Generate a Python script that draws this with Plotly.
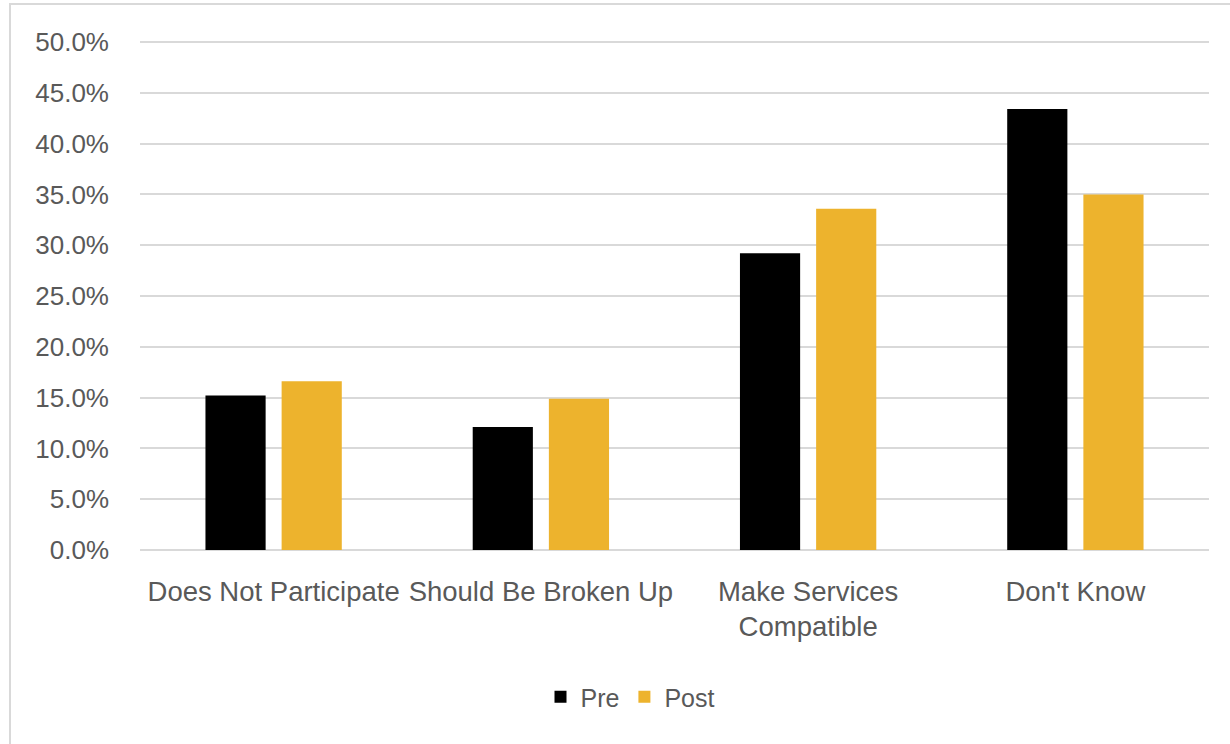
import plotly.graph_objects as go

categories = ["Does Not Participate", "Should Be Broken Up", "Make Services<br>Compatible", "Don't Know"]
pre_values = [15.2, 12.1, 29.2, 43.4]
post_values = [16.6, 14.9, 33.6, 35.0]
tick_vals = [0, 5, 10, 15, 20, 25, 30, 35, 40, 45, 50]
tick_text = [f"{v:.1f}%" for v in tick_vals]

fig = go.Figure()
fig.add_trace(go.Bar(name="Pre", x=categories, y=pre_values, marker_color="#000000", marker_line_width=0))
fig.add_trace(go.Bar(name="Post", x=categories, y=post_values, marker_color="#EDB32D", marker_line_width=0))

W, H = 1230, 744
L, R, T, B = 140, 21, 40, 194
pw, ph = W - L - R, H - T - B

def px_x(x):
    return (x - L) / pw

def px_y(y):
    return (H - B - y) / ph

fig.update_layout(
    width=W, height=H,
    margin=dict(l=L, r=R, t=T, b=B, autoexpand=False),
    paper_bgcolor="white", plot_bgcolor="white",
    barmode="group", bargap=0.43, bargroupgap=0.21,
    font=dict(family="Liberation Sans, Arial, sans-serif", color="#595959", size=22),
    showlegend=True,
    legend=dict(orientation="h", x=px_x(630), xanchor="center", y=px_y(697), yanchor="middle",
                font=dict(size=25, color="#595959"), itemwidth=30, traceorder="normal"),
    shapes=[dict(type="rect", xref="paper", yref="paper",
                 x0=px_x(10), x1=px_x(1262), y0=px_y(770), y1=px_y(4),
                 line=dict(color="#d9d9d9", width=2), fillcolor="rgba(0,0,0,0)", layer="below")],
)
fig.update_yaxes(range=[0, 50.2], tickvals=tick_vals, ticktext=tick_text,
                 showgrid=True, gridcolor="#d9d9d9", gridwidth=2,
                 zeroline=True, zerolinecolor="#d9d9d9", zerolinewidth=2,
                 showline=False, ticks="", ticklabelstandoff=30,
                 tickfont=dict(size=26, color="#595959"))
fig.update_xaxes(showgrid=False, showline=False, ticks="", ticklabelstandoff=22,
                 tickfont=dict(size=27.5, color="#595959"))

fig.write_html("out.html", config={"displayModeBar": False},
               post_script="document.body.style.margin='0';")
